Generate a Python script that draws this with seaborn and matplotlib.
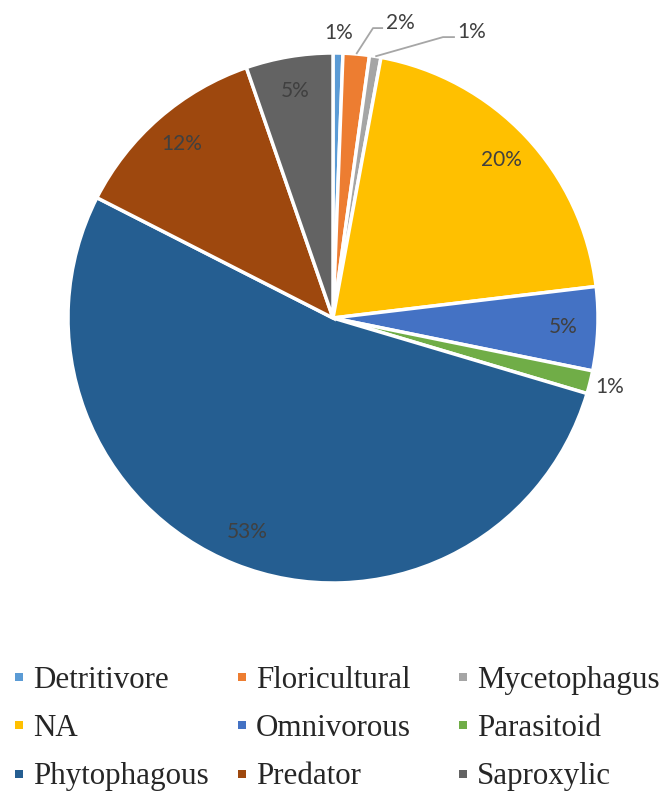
import matplotlib
matplotlib.use("Agg")
import matplotlib.pyplot as plt
import seaborn as sns
import numpy as np
from matplotlib.lines import Line2D

sns.set_theme(style="white")

categories = ["Detritivore", "Floricultural", "Mycetophagus", "NA", "Omnivorous",
              "Parasitoid", "Phytophagous", "Predator", "Saproxylic"]
values = [0.6, 1.6, 0.7, 20.2, 5.1, 1.4, 52.9, 12.2, 5.3]
colors = ["#5B9BD5", "#ED7D31", "#A5A5A5", "#FFC000", "#4472C4",
          "#70AD47", "#255E91", "#9E480E", "#636363"]

W, H = 665, 798
fig = plt.figure(figsize=(W / 100, H / 100), dpi=100)
cx, cy, R = 333, 318, 265
ax = fig.add_axes([(cx - R) / W, (H - cy - R) / H, 2 * R / W, 2 * R / H])

wedges, _ = ax.pie(values, colors=colors, startangle=90, counterclock=False,
                   radius=1, wedgeprops=dict(edgecolor="white", linewidth=2.5))
ax.set_xlim(-1, 1)
ax.set_ylim(-1, 1)
ax.set_axis_off()

total = sum(values)
lab_font = dict(family="Lato", fontsize=15, color="#404040")

def pt(theta_deg, r):
    t = np.deg2rad(theta_deg)
    return r * np.cos(t), r * np.sin(t)

for i, (w, v) in enumerate(zip(wedges, values)):
    mid = (w.theta1 + w.theta2) / 2
    txt = f"{int(np.floor(v / total * 100 + 0.5))}%"
    name = categories[i]
    if name == "Floricultural":
        x0, y0 = pt(mid, 1.0)
        ax.plot([x0, 0.151, 0.189], [y0, 1.094, 1.094], color="#A6A6A6", lw=1.3,
                clip_on=False, solid_capstyle="butt")
        ax.text(0.200, 1.113, txt, ha="left", va="center", **lab_font)
    elif name == "Mycetophagus":
        x0, y0 = pt(mid, 1.0)
        ax.plot([x0, 0.415, 0.460], [y0, 1.060, 1.060], color="#A6A6A6", lw=1.3,
                clip_on=False, solid_capstyle="butt")
        ax.text(0.468, 1.079, txt, ha="left", va="center", **lab_font)
    elif name in ("Detritivore", "Parasitoid"):
        x, y = pt(mid, 1.075)
        ax.text(x, y, txt, ha="center", va="center", **lab_font)
    else:
        x, y = pt(mid, 0.87)
        ax.text(x, y, txt, ha="center", va="center", **lab_font)

# legend: three columns, equal widths
col_x = [15, 238, 459]
for c in range(3):
    handles = []
    labels = []
    for r in range(3):
        k = r * 3 + c
        handles.append(Line2D([], [], marker="s", ls="", color=colors[k],
                              markersize=6, markeredgewidth=0))
        labels.append(categories[k])
    fig.legend(handles, labels, loc="upper left",
               bbox_to_anchor=((col_x[c] - 1) / W, 1 - 666 / H),
               frameon=False, borderpad=0, borderaxespad=0,
               handlelength=0.3, handletextpad=0.32, labelspacing=0.62,
               prop=dict(family="Liberation Serif", size=22.3))

fig.savefig("out.png", dpi=100)
